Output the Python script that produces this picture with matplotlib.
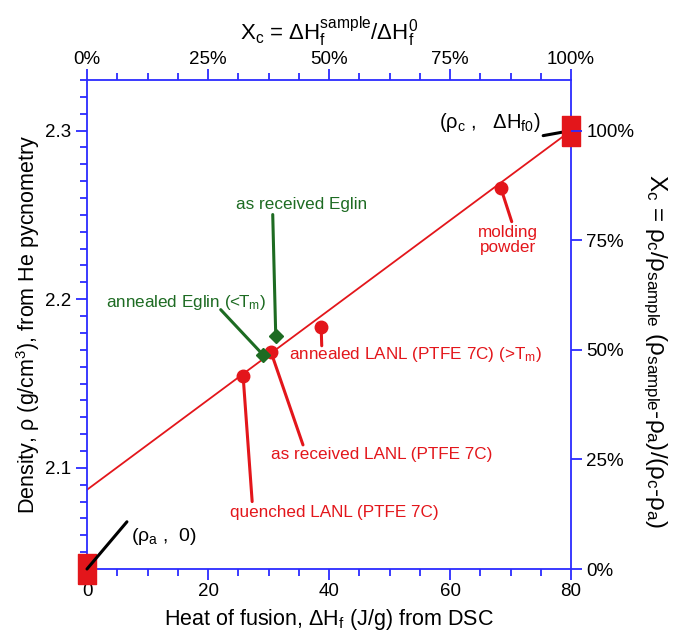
import matplotlib
matplotlib.use("Agg")
import matplotlib.pyplot as plt
from matplotlib.ticker import MultipleLocator, FuncFormatter

plt.rcParams['font.family'] = ['Liberation Sans', 'DejaVu Sans']
plt.rcParams['mathtext.fontset'] = 'custom'
plt.rcParams['mathtext.rm'] = 'Liberation Sans'
plt.rcParams['mathtext.it'] = 'Liberation Sans'
plt.rcParams['mathtext.bf'] = 'Liberation Sans:bold'

# ---- data ----
lanl_labels = ["quenched LANL (PTFE 7C)", "as received LANL (PTFE 7C)",
               "annealed LANL (PTFE 7C) (>T$_m$)", "molding\npowder"]
lanl_hf = [25.8, 30.4, 38.7, 68.4]
lanl_rho = [2.1546, 2.1688, 2.1837, 2.266]

eglin_labels = ["annealed Eglin (<T$_m$)", "as received Eglin"]
eglin_hf = [29.1, 31.2]
eglin_rho = [2.167, 2.178]

ref_hf = [0, 80]
ref_rho = [2.04, 2.30]

fit_hf = [0, 80]
fit_rho = [2.087, 2.30]

top_ticks = [0, 25, 50, 75, 100]
right_ticks = [0, 25, 50, 75, 100]

RED = '#e3161b'
GREEN = '#1d6b22'
BLUE = '#2b2bff'

fig = plt.figure(figsize=(6.73, 6.34), dpi=100)
ax = fig.add_axes([87/673, 1-569/634, (571-87)/673, (569-80)/634])

ax.set_xlim(0, 80)
ax.set_ylim(2.04, 2.33)

ax.plot(fit_hf, fit_rho, color=RED, lw=1.3, zorder=2)
ax.plot(lanl_hf, lanl_rho, 'o', color=RED, ms=9, zorder=4)
ax.plot(eglin_hf, eglin_rho, 'D', color=GREEN, ms=7, zorder=4)
rect = [(-0.62, -1), (0.62, -1), (0.62, 1), (-0.62, 1), (-0.62, -1)]
ax.plot(ref_hf, ref_rho, linestyle='none', marker=rect, color=RED, ms=22,
        clip_on=False, zorder=5)

fs = 12.3
ann = dict(arrowstyle='-', lw=2.2, shrinkA=0, shrinkB=0)

# reference point annotations
ax.annotate('', xy=(ref_hf[1], ref_rho[1]), xytext=(75.4, 2.297),
            arrowprops=dict(ann, color='black'), zorder=3)
ax.text(74.9, 2.3045, r'($\rho_c$ ,   ΔH$_{f0}$)', ha='right', va='center', fontsize=14.5)
ax.annotate('', xy=(ref_hf[0], ref_rho[0]), xytext=(6.6, 2.068),
            arrowprops=dict(ann, color='black'), annotation_clip=False, zorder=6)
ax.text(7.2, 2.0595, r'($\rho_a$ ,  0)', ha='left', va='center', fontsize=14)

# LANL annotations
lanl_line_end = [(27.3, 2.080), (35.7, 2.1136), (38.8, 2.1724), (70.2, 2.246)]
lanl_text_pos = [(23.6, 2.0733), (30.4, 2.1077), (33.4, 2.167), (69.6, 2.2353)]
lanl_ha = ['left', 'left', 'left', 'center']
for x, y, le, tp, lab, ha in zip(lanl_hf, lanl_rho, lanl_line_end, lanl_text_pos,
                                 lanl_labels, lanl_ha):
    ax.annotate('', xy=(x, y), xytext=le, arrowprops=dict(ann, color=RED), zorder=3)
    ax.text(tp[0], tp[1], lab, ha=ha, va='center', color=RED, fontsize=fs,
            linespacing=1.0)

# Eglin annotations
eglin_line_end = [(22.1, 2.1938), (30.7, 2.2502)]
eglin_text_pos = [(3.1, 2.198), (35.5, 2.2561)]
eglin_ha = ['left', 'center']
for x, y, le, tp, lab, ha in zip(eglin_hf, eglin_rho, eglin_line_end, eglin_text_pos,
                                 eglin_labels, eglin_ha):
    ax.annotate('', xy=(x, y), xytext=le, arrowprops=dict(ann, color=GREEN), zorder=3)
    ax.text(tp[0], tp[1], lab, ha=ha, va='center', color=GREEN, fontsize=fs)

tls = 13.5
# main axes styling
for s in ax.spines.values():
    s.set_color(BLUE)
    s.set_linewidth(1.3)
ax.xaxis.set_major_locator(MultipleLocator(20))
ax.xaxis.set_minor_locator(MultipleLocator(5))
ax.yaxis.set_major_locator(MultipleLocator(0.1))
ax.yaxis.set_minor_locator(MultipleLocator(0.01))
ax.tick_params(which='both', direction='out', color=BLUE, width=1.3, labelsize=tls,
               top=False, right=False)
ax.tick_params(which='major', length=8)
ax.tick_params(which='minor', length=5)
ax.tick_params(axis='x', pad=2)
ax.yaxis.set_major_formatter(FuncFormatter(lambda v, p: f'{v:.1f}'))
ax.set_xlabel('Heat of fusion, ΔH$_f$ (J/g) from DSC', fontsize=15.5, labelpad=5)
ax.set_ylabel('Density, ρ (g/cm$^3$), from He pycnometry', fontsize=15.5, va='center')
ax.yaxis.set_label_coords(-0.122, 0.5)

# top axis
axt = ax.twiny()
axt.set_xlim(0, 100)
axt.set_xticks(top_ticks)
axt.xaxis.set_minor_locator(MultipleLocator(6.25))
axt.set_xticklabels([f'{t}%' for t in top_ticks])
axt.tick_params(which='both', direction='out', color=BLUE, width=1.3, labelsize=tls, pad=0.5)
axt.tick_params(which='major', length=8)
axt.tick_params(which='minor', length=5)
axt.set_xlabel('X$_c$ = ΔH$_f^{sample}$/ΔH$_f^0$', fontsize=16, labelpad=8)
for s in axt.spines.values():
    s.set_visible(False)

# right axis
axr = ax.twinx()
lo, hi = ref_rho
axr.set_ylim((2.04 - lo) / (hi - lo) * 100, (2.33 - lo) / (hi - lo) * 100)
axr.set_yticks(right_ticks)
axr.set_yticklabels([f'{t}%' for t in right_ticks])
axr.tick_params(direction='out', color=BLUE, width=1.3, length=8, labelsize=tls, pad=3)
axr.set_ylabel(r'X$_c$ = $\rho_c$/$\rho_{sample}$ ($\rho_{sample}$-$\rho_a$)/($\rho_c$-$\rho_a$)',
               rotation=270, fontsize=17.5, va='center')
axr.yaxis.set_label_coords(1.172, 0.445)
for s in axr.spines.values():
    s.set_visible(False)

fig.savefig('out.png', dpi=100)
